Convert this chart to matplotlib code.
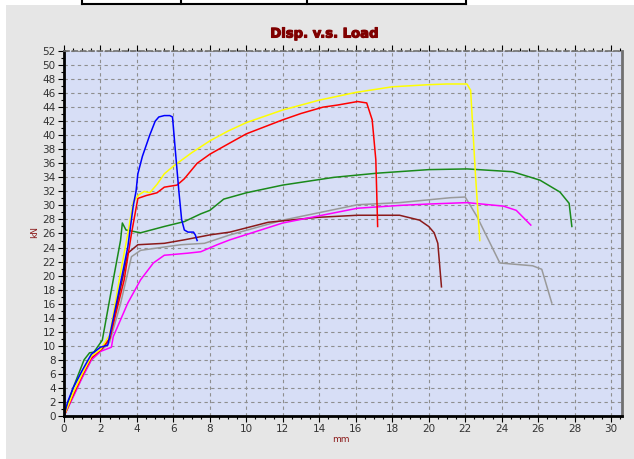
import matplotlib
matplotlib.use("Agg")
import matplotlib.pyplot as plt
import matplotlib.patheffects as pe
from matplotlib.lines import Line2D
from matplotlib.patches import Rectangle
from matplotlib.ticker import MultipleLocator

# ---- data (mm, kN) ----
blue_x = [0, 0.2, 0.5, 1.0, 1.5, 2.0, 2.4, 2.95, 3.5, 3.8, 3.95, 4.05, 4.3, 4.5, 4.7, 5.0, 5.2, 5.5, 5.8, 5.95,
          6.1, 6.3, 6.45, 6.6, 6.8, 7.1, 7.2, 7.3]
blue_y = [0, 2, 4, 6.5, 8.8, 9.8, 10.1, 17, 24.1, 30, 32, 34.5, 37, 38.5, 40, 42, 42.6, 42.8, 42.8, 42.6,
          38, 32, 28, 26.5, 26.2, 26.2, 25.8, 25]

yellow_x = [0, 0.5, 1, 1.5, 2, 2.5, 3.1, 3.5, 3.8, 4.1, 4.4, 4.7, 5.1, 5.5, 6, 7, 8, 9, 10, 12, 14, 16, 18, 20,
            21, 22.1, 22.3, 22.55, 22.8]
yellow_y = [0, 3.3, 6, 8.5, 9.5, 11.5, 20.4, 26, 30.5, 31.5, 32, 31.8, 33, 34.5, 35.6, 37.5, 39.2, 40.6, 41.8,
            43.6, 45, 46.1, 46.9, 47.2, 47.3, 47.3, 46.4, 35, 25]

red_x = [0, 0.5, 1, 1.5, 2, 2.5, 3.3, 3.7, 4.05, 4.5, 5.1, 5.5, 6.2, 6.6, 7.3, 8, 9.1, 10, 11, 12, 13, 14.2, 15,
         16.1, 16.6, 16.9, 17.1, 17.2]
red_y = [0, 3, 5.8, 8.3, 9.4, 11, 19.4, 26, 31, 31.4, 31.8, 32.6, 32.9, 33.8, 36, 37.3, 38.9, 40.2, 41.2, 42.2,
         43.1, 44, 44.3, 44.8, 44.6, 42.2, 36.5, 27]

green_x = [0, 0.5, 1.1, 1.4, 1.64, 2.1, 2.7, 3.1, 3.2, 3.4, 4.2, 5.5, 6.6, 7.5, 8.0, 8.76, 10, 12, 14.8, 17.2,
           20, 22.1, 24.6, 26.1, 27.2, 27.7, 27.85]
green_y = [0, 4, 8, 9, 9.1, 10.8, 19.4, 25, 27.5, 26.5, 26.1, 27, 27.7, 28.8, 29.3, 30.9, 31.8, 32.9, 34, 34.6,
           35.1, 35.2, 34.8, 33.6, 31.9, 30.3, 27]

brown_x = [0, 0.5, 1, 1.5, 2, 2.5, 3.0, 3.5, 4.05, 5.5, 6.6, 8, 9.1, 11.2, 13.9, 16.1, 18.4, 19.5, 20.0, 20.3,
           20.5, 20.7]
brown_y = [0, 3, 5.8, 8.2, 9.3, 11, 17, 23.2, 24.4, 24.6, 25.1, 25.8, 26.2, 27.6, 28.3, 28.6, 28.6, 27.9, 27,
           26.1, 24.6, 18.4]

gray_x = [0, 0.5, 1, 1.5, 2, 2.5, 3.1, 3.7, 4.2, 6.4, 7.7, 9.1, 12, 16.1, 18.4, 21.2, 22.0, 22.65, 23.9, 25.7,
          26.2, 26.75]
gray_y = [0, 2.8, 5.5, 8, 9.2, 10.5, 16, 22.7, 23.6, 24.4, 24.6, 25.8, 27.9, 30.1, 30.4, 31.1, 31.2, 28.4, 21.8,
          21.4, 20.9, 16.1]

magenta_x = [0, 0.5, 1, 1.5, 2, 2.3, 2.6, 2.7, 3.5, 4.2, 4.9, 5.5, 6.8, 7.5, 8.4, 9.1, 12, 16.1, 18.4, 20, 22.1,
             24.1, 24.8, 25.6]
magenta_y = [0, 2.7, 5.5, 8, 9.2, 9.5, 9.8, 11.3, 16.1, 19.4, 21.8, 22.9, 23.2, 23.4, 24.4, 25.1, 27.5, 29.6,
             30.0, 30.2, 30.4, 29.9, 29.3, 27.2]

series = [
    (gray_x, gray_y, "#9a9a9a"),
    (brown_x, brown_y, "#8b1a1a"),
    (magenta_x, magenta_y, "#ff00ff"),
    (green_x, green_y, "#1a8a1a"),
    (red_x, red_y, "#ff0000"),
    (yellow_x, yellow_y, "#ffff00"),
    (blue_x, blue_y, "#0000ff"),
]

W, H = 634, 459
fig = plt.figure(figsize=(W / 100, H / 100), dpi=100)
fig.patch.set_facecolor("white")
fig.patches.append(Rectangle((6 / W, 0), 1 - 6 / W, 1 - 5 / H, transform=fig.transFigure,
                             facecolor="#e6e6e6", edgecolor="none", zorder=-5))

# table lines at the top
def px_line(x0, y0, x1, y1):
    fig.add_artist(Line2D([x0 / W, x1 / W], [1 - y0 / H, 1 - y1 / H], transform=fig.transFigure,
                          color="black", lw=1.5))

px_line(82, 4, 466, 4)
for xv in [82, 181, 307, 466]:
    px_line(xv, 0, xv, 4)

left, right, top, bottom = 64, 622, 51, 416
ax = fig.add_axes([left / W, (H - bottom) / H, (right - left) / W, (bottom - top) / H])
ax.set_zorder(2)
ax.set_facecolor("#d7def6")

for xs, ys, c in series:
    ax.plot(xs, ys, color=c, lw=1.1)

ax.set_xlim(0, 30.6)
ax.set_ylim(0, 52)
ax.xaxis.set_major_locator(MultipleLocator(2))
ax.xaxis.set_minor_locator(MultipleLocator(0.5))
ax.yaxis.set_major_locator(MultipleLocator(2))
ax.yaxis.set_minor_locator(MultipleLocator(1))
ax.grid(True, which="major", color="#8e8e8e", linestyle=(0, (3, 3)), lw=0.8)
ax.tick_params(axis="both", which="major", length=4, width=0.8, labelsize=7.5, colors="black",
               labelcolor="#333333", pad=2)
ax.tick_params(axis="both", which="minor", length=2, width=0.8, colors="black")
ax.tick_params(axis="x", which="both", top=True, direction="out")

ax.spines["left"].set_linewidth(2)
ax.spines["left"].set_color("black")
ax.spines["bottom"].set_linewidth(2)
ax.spines["bottom"].set_color("black")
ax.spines["right"].set_linewidth(2)
ax.spines["right"].set_color("#707070")
ax.spines["top"].set_linewidth(1.2)
ax.spines["top"].set_color("#707070")
ax.spines["top"].set_linestyle((0, (3, 2)))

fig.text(325 / W, 1 - 34 / H, "Disp. v.s. Load", ha="center", va="center", fontsize=9.5,
         fontweight="bold", color="#800000",
         path_effects=[pe.withStroke(linewidth=0.8, foreground="#800000")])
fig.text(35 / W, 1 - 232 / H, "kN", ha="center", va="center", rotation=90, fontsize=6.5, color="#8b1a1a")
fig.text(341 / W, 1 - 440 / H, "mm", ha="center", va="center", fontsize=6.5, color="#8b1a1a")

fig.savefig("out.png", dpi=100, facecolor=fig.get_facecolor())
